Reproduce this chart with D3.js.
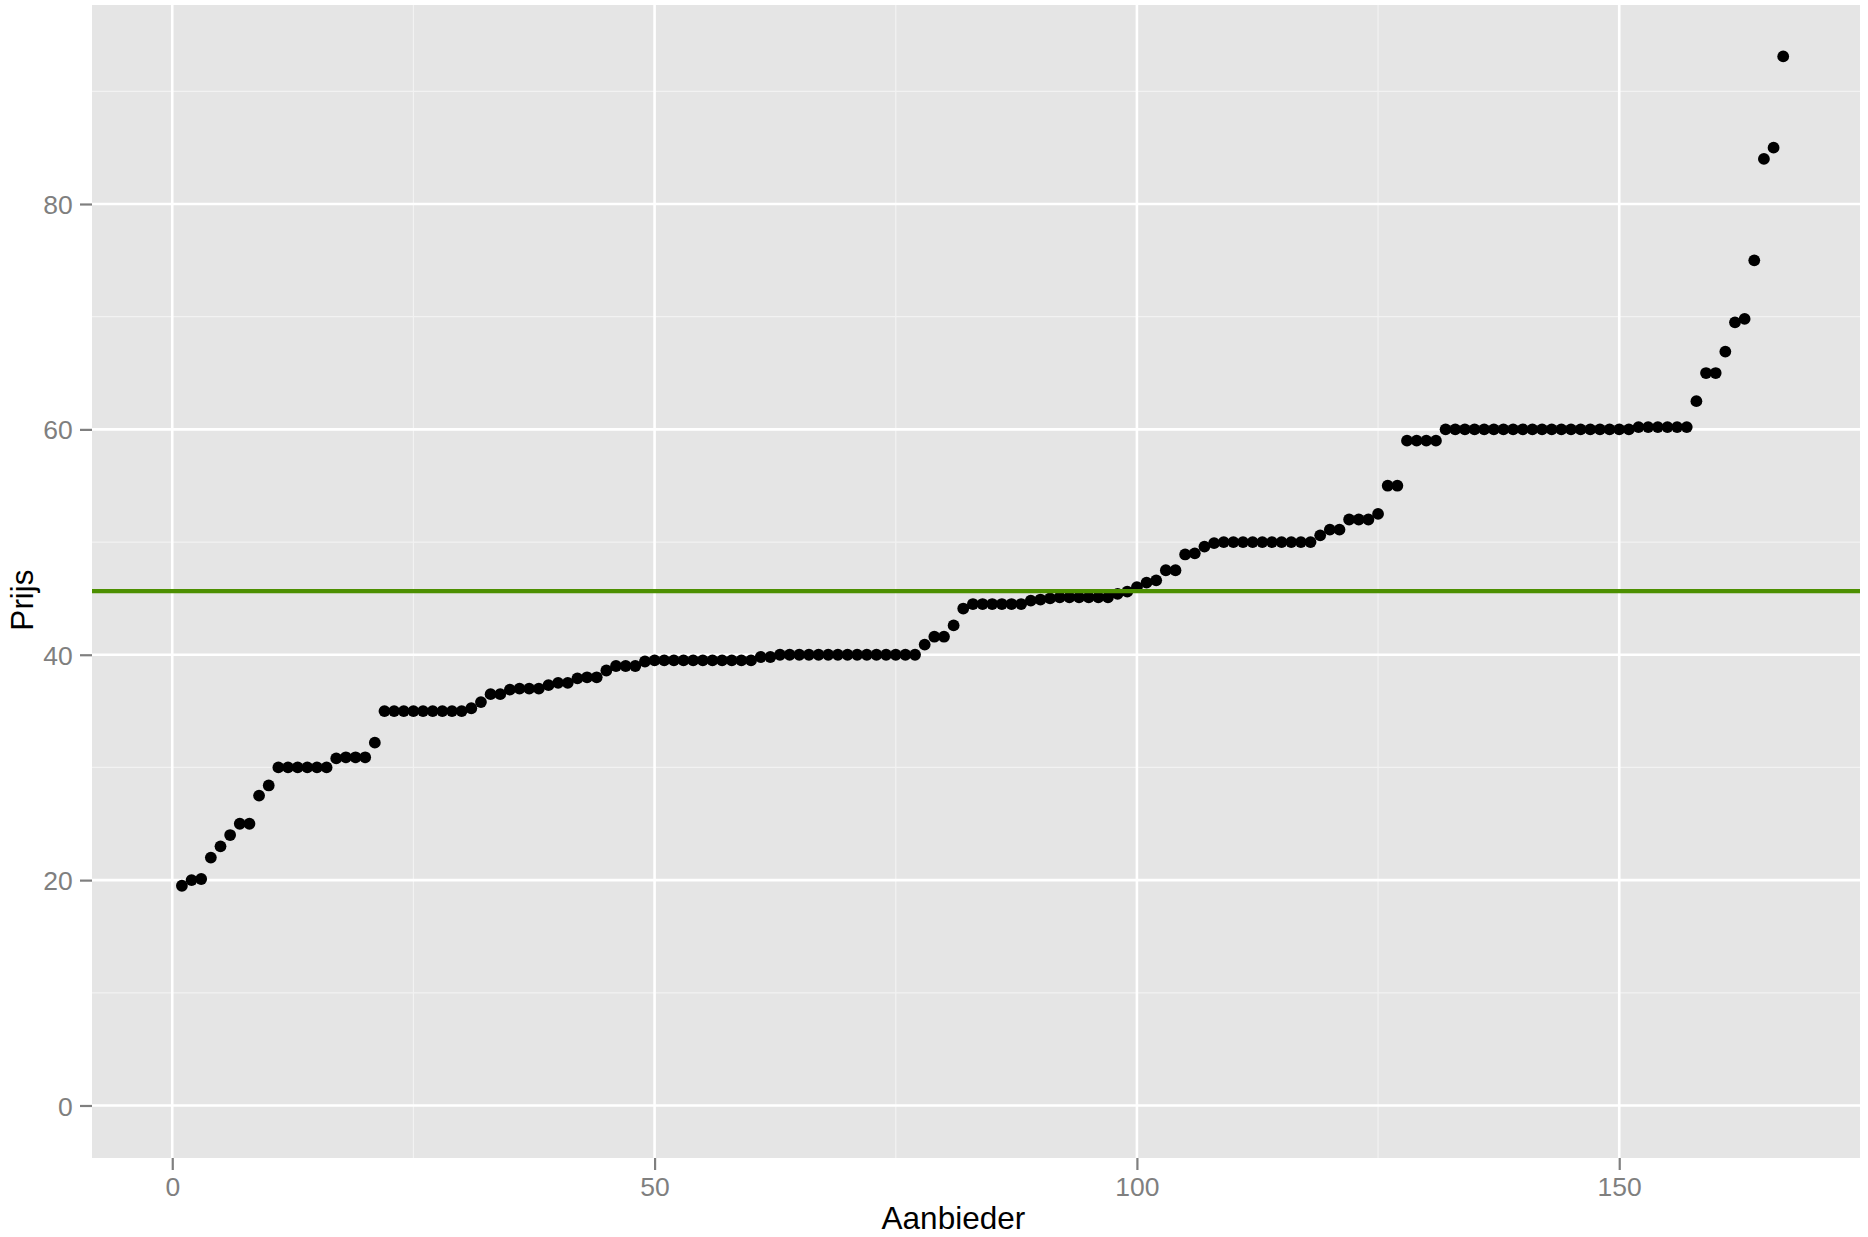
<!DOCTYPE html>
<html><head><meta charset="utf-8">
<script src="https://cdn.jsdelivr.net/npm/d3@7/dist/d3.min.js"></script>
<style>body{margin:0;background:#fff}svg{display:block}</style>
</head><body>
<svg id="chart" width="1868" height="1237"></svg>
<script>
// Sorted prices per supplier (rank 1..167)
const prijs = [
  19.5, 20.0, 20.1, 22.0, 23.0, 24.0, 25.0, 25.0, 27.5, 28.4,
  30, 30, 30, 30, 30, 30, 30.8, 30.9, 30.9, 30.9,
  32.2, 35, 35, 35, 35, 35, 35, 35, 35, 35,
  35.25, 35.8, 36.5, 36.5, 36.9, 37.0, 37.0, 37.0, 37.3, 37.5,
  37.5, 37.9, 38.0, 38.0, 38.6, 39.0, 39.0, 39.0, 39.4, 39.5,
  39.5, 39.5, 39.5, 39.5, 39.5, 39.5, 39.5, 39.5, 39.5, 39.5,
  39.8, 39.8, 40, 40, 40, 40, 40, 40, 40, 40,
  40, 40, 40, 40, 40, 40, 40, 40.9, 41.6, 41.6,
  42.6, 44.1, 44.5, 44.5, 44.5, 44.5, 44.5, 44.5, 44.8, 44.9,
  45.0, 45.1, 45.1, 45.1, 45.1, 45.1, 45.1, 45.4, 45.6, 46.0,
  46.4, 46.6, 47.5, 47.5, 48.9, 49.0, 49.6, 49.9, 50, 50,
  50, 50, 50, 50, 50, 50, 50, 50, 50.6, 51.1,
  51.1, 52, 52, 52, 52.5, 55, 55, 59, 59, 59,
  59, 60, 60, 60, 60, 60, 60, 60, 60, 60,
  60, 60, 60, 60, 60, 60, 60, 60, 60, 60,
  60, 60.2, 60.2, 60.2, 60.2, 60.2, 60.2, 62.5, 65, 65,
  66.9, 69.5, 69.8, 75, 84, 85, 93.1
];
const gemiddelde = [45.65];
const xTicks = [0, 50, 100, 150];
const xMinor = [25, 75, 125];
const yTicks = [0, 20, 40, 60, 80];
const yMinor = [10, 30, 50, 70, 90];
const xLabel = "Aanbieder";
const yLabel = "Prijs";

const data = prijs.map((p, i) => ({ aanbieder: i + 1, prijs: p }));

const panel = { left: 92, right: 1860, top: 5, bottom: 1158 };
const svg = d3.select("#chart");
svg.append("rect").attr("width", 1868).attr("height", 1237).attr("fill", "#ffffff");

const x = d3.scaleLinear().domain([-8.32, 174.96]).range([panel.left, panel.right]);
const y = d3.scaleLinear().domain([-4.66, 97.66]).range([panel.bottom, panel.top]);

svg.append("rect")
  .attr("x", panel.left).attr("y", panel.top)
  .attr("width", panel.right - panel.left).attr("height", panel.bottom - panel.top)
  .attr("fill", "#e5e5e5");

const grid = svg.append("g");
grid.selectAll("line.xmin").data(xMinor).join("line")
  .attr("x1", d => x(d)).attr("x2", d => x(d))
  .attr("y1", panel.top).attr("y2", panel.bottom)
  .attr("stroke", "#f2f2f2").attr("stroke-width", 1.2);
grid.selectAll("line.ymin").data(yMinor).join("line")
  .attr("y1", d => y(d)).attr("y2", d => y(d))
  .attr("x1", panel.left).attr("x2", panel.right)
  .attr("stroke", "#f2f2f2").attr("stroke-width", 1.2);
grid.selectAll("line.xmaj").data(xTicks).join("line")
  .attr("x1", d => x(d)).attr("x2", d => x(d))
  .attr("y1", panel.top).attr("y2", panel.bottom)
  .attr("stroke", "#ffffff").attr("stroke-width", 2.6);
grid.selectAll("line.ymaj").data(yTicks).join("line")
  .attr("y1", d => y(d)).attr("y2", d => y(d))
  .attr("x1", panel.left).attr("x2", panel.right)
  .attr("stroke", "#ffffff").attr("stroke-width", 2.6);

// points
svg.append("g").selectAll("circle").data(data).join("circle")
  .attr("cx", d => x(d.aanbieder))
  .attr("cy", d => y(d.prijs))
  .attr("r", 5.9)
  .attr("fill", "#000000");

// mean line
svg.append("g").selectAll("line").data(gemiddelde).join("line")
  .attr("x1", panel.left).attr("x2", panel.right)
  .attr("y1", d => y(d)).attr("y2", d => y(d))
  .attr("stroke", "#4c8f00").attr("stroke-width", 4.2);

// axes
const fontFam = "'Liberation Sans', Arial, Helvetica, sans-serif";
const xAxis = svg.append("g")
  .attr("transform", `translate(0,${panel.bottom})`)
  .call(d3.axisBottom(x).tickValues(xTicks).tickSize(12).tickPadding(8).tickFormat(d3.format("d")));
const yAxis = svg.append("g")
  .attr("transform", `translate(${panel.left},0)`)
  .call(d3.axisLeft(y).tickValues(yTicks).tickSize(12).tickPadding(7.3).tickFormat(d3.format("d")));
[xAxis, yAxis].forEach(a => {
  a.select(".domain").remove();
  a.selectAll(".tick line").attr("stroke", "#7f7f7f").attr("stroke-width", 2.2);
  a.selectAll(".tick text").attr("fill", "#7f7f7f")
    .style("font-family", fontFam).style("font-size", "26.5px");
});
yAxis.selectAll(".tick text").attr("dy", "0.36em");
xAxis.selectAll(".tick text").attr("dy", "0.68em");

svg.append("text")
  .attr("x", 953.4).attr("y", 1229)
  .attr("text-anchor", "middle")
  .style("font-family", fontFam).style("font-size", "31.5px")
  .attr("fill", "#000")
  .text(xLabel);
svg.append("text")
  .attr("transform", "translate(33,600) rotate(-90)")
  .attr("text-anchor", "middle")
  .style("font-family", fontFam).style("font-size", "31.5px")
  .attr("fill", "#000")
  .text(yLabel);
</script>
</body></html>
